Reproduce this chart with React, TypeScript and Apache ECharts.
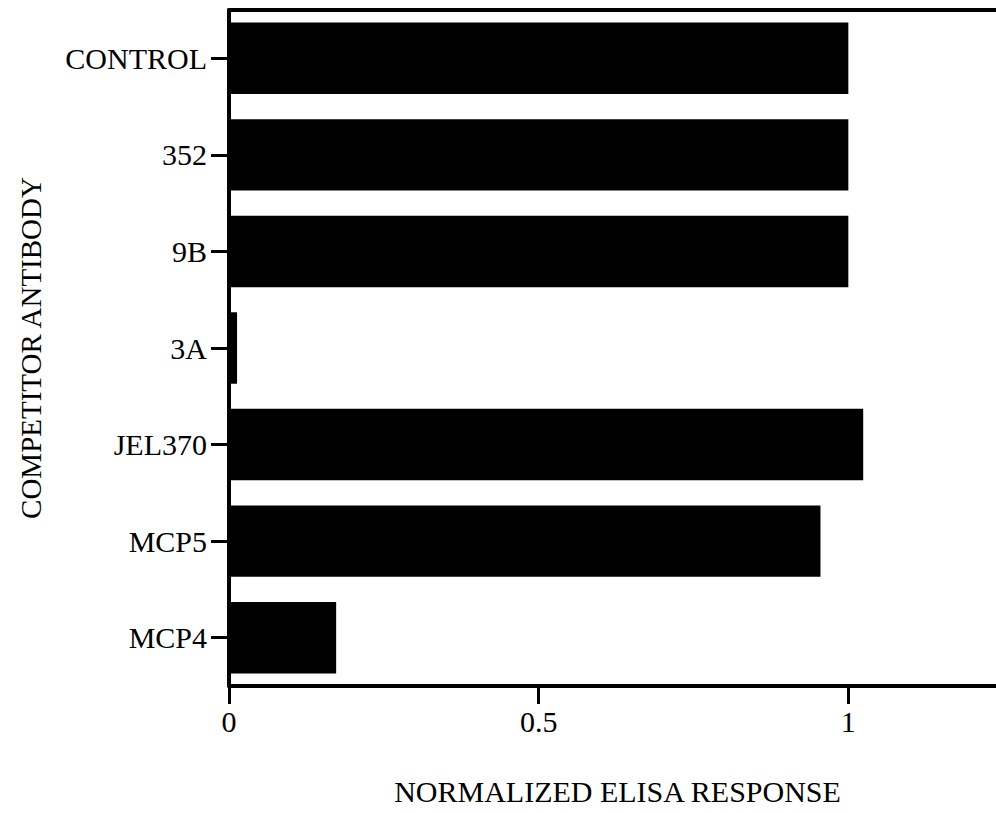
import React, { useEffect, useRef } from "react";
import * as echarts from "echarts";

const categories = ["CONTROL", "352", "9B", "3A", "JEL370", "MCP5", "MCP4"];
const responses = [1.0, 1.0, 1.0, 0.013, 1.024, 0.955, 0.173];
const xTickLabels = ["0", "0.5", "1"];

const FONT = "'Liberation Serif', 'Times New Roman', serif";

export default function App() {
  const ref = useRef<HTMLDivElement>(null);
  useEffect(() => {
    if (!ref.current) return;
    const chart = echarts.init(ref.current, null, { renderer: "svg" });
    chart.setOption({
      animation: false,
      backgroundColor: "#ffffff",
      grid: { left: 229, right: 0, top: 10, bottom: 127, containLabel: false },
      xAxis: [
        {
          type: "value",
          min: 0,
          max: 1.5,
          interval: 0.5,
          position: "bottom",
          name: "NORMALIZED ELISA RESPONSE",
          nameLocation: "middle",
          nameGap: 90,
          nameTextStyle: {
            fontFamily: FONT,
            fontSize: 30,
            color: "#000",
            padding: [0, 152, 0, 0],
          },
          axisLine: { show: true, lineStyle: { color: "#000", width: 4 } },
          axisTick: {
            show: true,
            inside: false,
            length: 18,
            lineStyle: { color: "#000", width: 3 },
          },
          axisLabel: {
            show: true,
            margin: 20,
            fontFamily: FONT,
            fontSize: 30,
            color: "#000",
            formatter: (v: number) => {
              const s = String(v);
              return xTickLabels.indexOf(s) >= 0 ? s : "";
            },
          },
          splitLine: { show: false },
        },
        {
          type: "value",
          min: 0,
          max: 1.5,
          position: "top",
          axisLine: { show: true, lineStyle: { color: "#000", width: 4 } },
          axisTick: { show: false },
          axisLabel: { show: false },
          splitLine: { show: false },
        },
      ],
      yAxis: {
        type: "category",
        data: categories,
        inverse: true,
        name: "COMPETITOR ANTIBODY",
        nameLocation: "middle",
        nameRotate: 90,
        nameGap: 184,
        nameTextStyle: { fontFamily: FONT, fontSize: 29, color: "#000" },
        axisLine: { show: true, lineStyle: { color: "#000", width: 4 } },
        axisTick: {
          show: true,
          alignWithLabel: true,
          length: 18,
          lineStyle: { color: "#000", width: 3 },
        },
        axisLabel: {
          margin: 22,
          fontFamily: FONT,
          fontSize: 30,
          color: "#000",
        },
      },
      series: [
        {
          type: "bar",
          data: responses,
          barWidth: "74%",
          itemStyle: { color: "#000" },
          xAxisIndex: 0,
        },
      ],
    });
    return () => chart.dispose();
  }, []);
  return (
    <div
      ref={ref}
      style={{ position: "fixed", left: 0, top: 0, width: 1161, height: 813 }}
    />
  );
}
